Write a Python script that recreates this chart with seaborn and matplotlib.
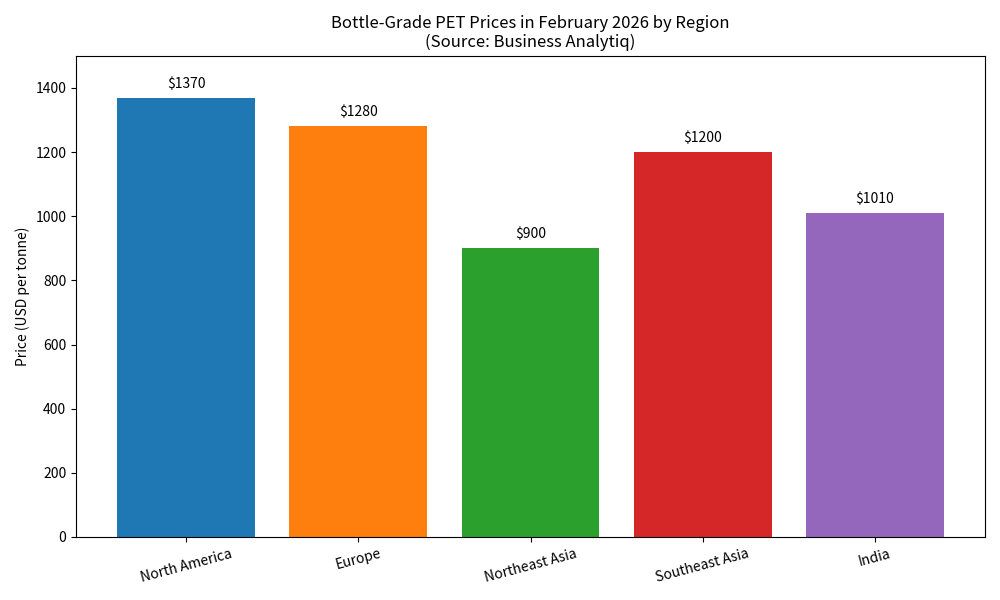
import pandas as pd
import numpy as np
import seaborn as sns
import matplotlib.pyplot as plt

regions = ['North America', 'Europe', 'Northeast Asia', 'Southeast Asia', 'India']
prices = [1370, 1280, 900, 1200, 1010]
colors = ['#1f77b4', '#ff7f0e', '#2ca02c', '#d62728', '#9467bd']

df = pd.DataFrame({'Region': regions, 'Price': prices})

sns.set_style('white')
plt.rcParams['font.family'] = ['Noto Sans CJK SC', 'DejaVu Sans']
plt.rcParams['text.color'] = 'black'
plt.rcParams['axes.labelcolor'] = 'black'
plt.rcParams['xtick.color'] = 'black'
plt.rcParams['ytick.color'] = 'black'

fig, ax = plt.subplots(figsize=(10, 6), dpi=100)
sns.barplot(data=df, x='Region', y='Price', hue='Region', palette=colors,
            saturation=1, width=0.8, legend=False, linewidth=0, ax=ax)

for c, v in zip(ax.containers, prices):
    ax.bar_label(c, labels=[f'${v}'], padding=5, fontsize=10)

# matplotlib default x margins around the bars
ax.set_xlim(-0.64, len(regions) - 1 + 0.64)
ax.set_ylim(0, 1500)
ax.set_xlabel('')
ax.set_ylabel('Price (USD per tonne)', fontsize=10)
ax.set_title('Bottle-Grade PET Prices in February 2026 by Region\n(Source: Business Analytiq)',
             fontsize=12)
ax.tick_params(axis='x', rotation=15, labelsize=10, bottom=True, length=3.5)
ax.tick_params(axis='y', labelsize=10, left=True, length=3.5)
for s in ax.spines.values():
    s.set_color('black')
    s.set_linewidth(0.8)

plt.subplots_adjust(left=0.076, right=0.985, top=0.907, bottom=0.105)
plt.savefig('out.png')
